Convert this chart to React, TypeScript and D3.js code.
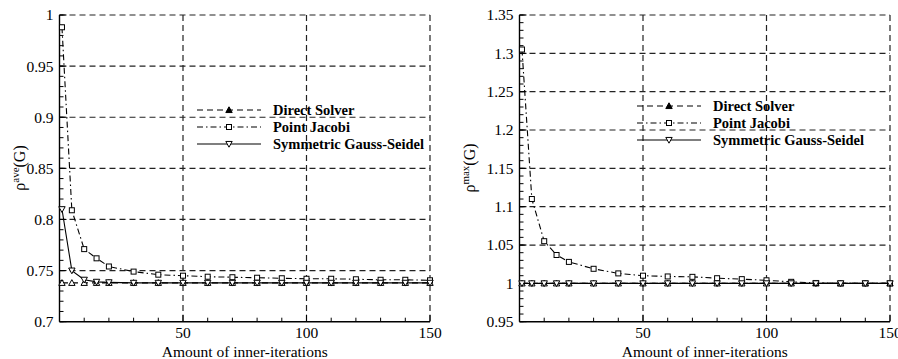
import * as d3 from "d3";

// inner-iteration counts where the points sit
const iters = [1, 5, 10, 15, 20, 30, 40, 50, 60, 70, 80, 90, 100, 110, 120, 130, 140, 150];

// left panel: rho^ave(G)
const aveDirect = [0.738, 0.738, 0.738, 0.738, 0.738, 0.738, 0.738, 0.738, 0.738, 0.738, 0.738, 0.738, 0.738, 0.738, 0.738, 0.738, 0.738, 0.738];
const aveJacobi = [0.988, 0.809, 0.771, 0.762, 0.754, 0.749, 0.746, 0.745, 0.744, 0.7435, 0.743, 0.7425, 0.742, 0.742, 0.7415, 0.741, 0.741, 0.7405];
const aveSGS = [0.81, 0.75, 0.741, 0.739, 0.7385, 0.738, 0.738, 0.738, 0.738, 0.738, 0.738, 0.738, 0.738, 0.738, 0.738, 0.738, 0.738, 0.738];

// right panel: rho^max(G)
const maxDirect = [1, 1, 1, 1, 1, 1, 1, 1, 1, 1, 1, 1, 1, 1, 1, 1, 1, 1];
const maxJacobi = [1.305, 1.11, 1.055, 1.037, 1.028, 1.019, 1.013, 1.01, 1.009, 1.0085, 1.0067, 1.0055, 1.004, 1.002, 1.0005, 1, 1, 1];
const maxSGS = [1, 1, 1, 1, 1, 1, 1, 1, 1, 1, 1, 1, 1, 1, 1, 1, 1, 1];

const seriesNames = ["Direct Solver", "Point Jacobi", "Symmetric Gauss-Seidel"];
const xTicks = [50, 100, 150];
const xMinor = [10, 20, 30, 40, 60, 70, 80, 90, 110, 120, 130, 140];
const aveTicks = [0.7, 0.75, 0.8, 0.85, 0.9, 0.95, 1];
const maxTicks = [0.95, 1, 1.05, 1.1, 1.15, 1.2, 1.25, 1.3, 1.35];

const W = 898;
const H = 359;
const TOP = 15;
const BOTTOM = 321.7;
const FONT = "'Liberation Serif', 'Times New Roman', serif";
const GRID = "#222";

const dashes = ["6,4", "6,3,1.5,3", null];

function Marker({ kind, x, y, filled }) {
  if (kind === 1) {
    return <rect x={x - 2.5} y={y - 2.5} width={5} height={5} fill="white" stroke="black" strokeWidth={1} />;
  }
  const s = 3.2;
  const pts = kind === 0
    ? [[x, y - s], [x - s, y + s * 0.8], [x + s, y + s * 0.8]]
    : [[x, y + s], [x - s, y - s * 0.8], [x + s, y - s * 0.8]];
  return <polygon points={pts.map((p) => p.join(",")).join(" ")} fill={filled ? "black" : "white"} stroke="black" strokeWidth={1} />;
}

function Panel({ x0, x1, domain, ticks, series, sup, labelX, legend }) {
  const x = d3.scaleLinear().domain([0, 150]).range([x0, x1]);
  const y = d3.scaleLinear().domain(domain).range([BOTTOM, TOP]);
  const line = d3.line<number>().x((_, i) => x(iters[i])).y((v) => y(v));
  const minorY = d3.range(domain[0], domain[1] + 1e-9, 0.01).map((v) => +v.toFixed(3));

  return (
    <g>
      {/* grid */}
      {ticks.slice(1).map((t) => (
        <line key={"gy" + t} x1={x0} x2={x1} y1={y(t)} y2={y(t)} stroke={GRID} strokeWidth={1.2} strokeDasharray="6,4" />
      ))}
      {xTicks.map((t) => (
        <line key={"gx" + t} x1={x(t)} x2={x(t)} y1={TOP} y2={BOTTOM} stroke={GRID} strokeWidth={1.2} strokeDasharray="6,4" />
      ))}

      {/* axes */}
      <line x1={x0} x2={x1} y1={BOTTOM} y2={BOTTOM} stroke="black" strokeWidth={1.4} />
      <line x1={x0} x2={x0} y1={TOP} y2={BOTTOM} stroke="black" strokeWidth={1.4} />
      {minorY.map((t) => (
        <line key={"my" + t} x1={x0} x2={x0 + 4} y1={y(t)} y2={y(t)} stroke="black" strokeWidth={1} />
      ))}
      {ticks.map((t) => (
        <line key={"ty" + t} x1={x0} x2={x0 + 7} y1={y(t)} y2={y(t)} stroke="black" strokeWidth={1} />
      ))}
      {xMinor.map((t) => (
        <line key={"mx" + t} x1={x(t)} x2={x(t)} y1={BOTTOM} y2={BOTTOM - 4} stroke="black" strokeWidth={1} />
      ))}
      {xTicks.map((t) => (
        <line key={"tx" + t} x1={x(t)} x2={x(t)} y1={BOTTOM} y2={BOTTOM - 7} stroke="black" strokeWidth={1} />
      ))}

      {/* tick labels */}
      {ticks.map((t) => (
        <text key={"ly" + t} x={x0 - 6} y={y(t)} dy="0.35em" textAnchor="end" fontSize={15.5} fontFamily={FONT}>
          {String(t)}
        </text>
      ))}
      {xTicks.map((t) => (
        <text key={"lx" + t} x={x(t)} y={BOTTOM + 16} textAnchor="middle" fontSize={15.5} fontFamily={FONT}>
          {t}
        </text>
      ))}
      <text x={(x0 + x1) / 2} y={356.5} textAnchor="middle" fontSize={15.5} fontFamily={FONT}>
        Amount of inner-iterations
      </text>
      <text transform={`translate(${labelX},168) rotate(-90)`} textAnchor="middle" fontSize={16} fontFamily={FONT}>
        ρ<tspan fontSize={11} dy={-6}>{sup}</tspan><tspan dy={6}>(G)</tspan>
      </text>

      {/* series */}
      {series.map((vals, k) => (
        <g key={"s" + k}>
          <path d={line(vals)} fill="none" stroke="black" strokeWidth={1.1} strokeDasharray={dashes[k] || undefined} />
          {vals.map((v, i) => (
            <Marker key={i} kind={k} x={x(iters[i])} y={y(v)} filled={false} />
          ))}
        </g>
      ))}

      {/* legend */}
      {seriesNames.map((name, k) => {
        const ly = legend.y + k * 17;
        return (
          <g key={"lg" + k}>
            <line x1={legend.x} x2={legend.x + 64} y1={ly} y2={ly} stroke="black" strokeWidth={1.1} strokeDasharray={dashes[k] || undefined} />
            <Marker kind={k} x={legend.x + 32} y={ly} filled={k === 0} />
            <text x={legend.x + 76} y={ly} dy="0.35em" fontSize={14.5} fontWeight="bold" fontFamily={FONT}>
              {name}
            </text>
          </g>
        );
      })}
    </g>
  );
}

export default function App() {
  return (
    <svg width={W} height={H} style={{ position: "absolute", left: 0, top: 0, background: "white" }}>
      <Panel
        x0={59.5}
        x1={430}
        domain={[0.7, 1]}
        ticks={aveTicks}
        series={[aveDirect, aveJacobi, aveSGS]}
        sup="ave"
        labelX={25}
        legend={{ x: 197, y: 110 }}
      />
      <Panel
        x0={519.5}
        x1={890}
        domain={[0.95, 1.35]}
        ticks={maxTicks}
        series={[maxDirect, maxJacobi, maxSGS]}
        sup="max"
        labelX={475}
        legend={{ x: 637, y: 106 }}
      />
    </svg>
  );
}
